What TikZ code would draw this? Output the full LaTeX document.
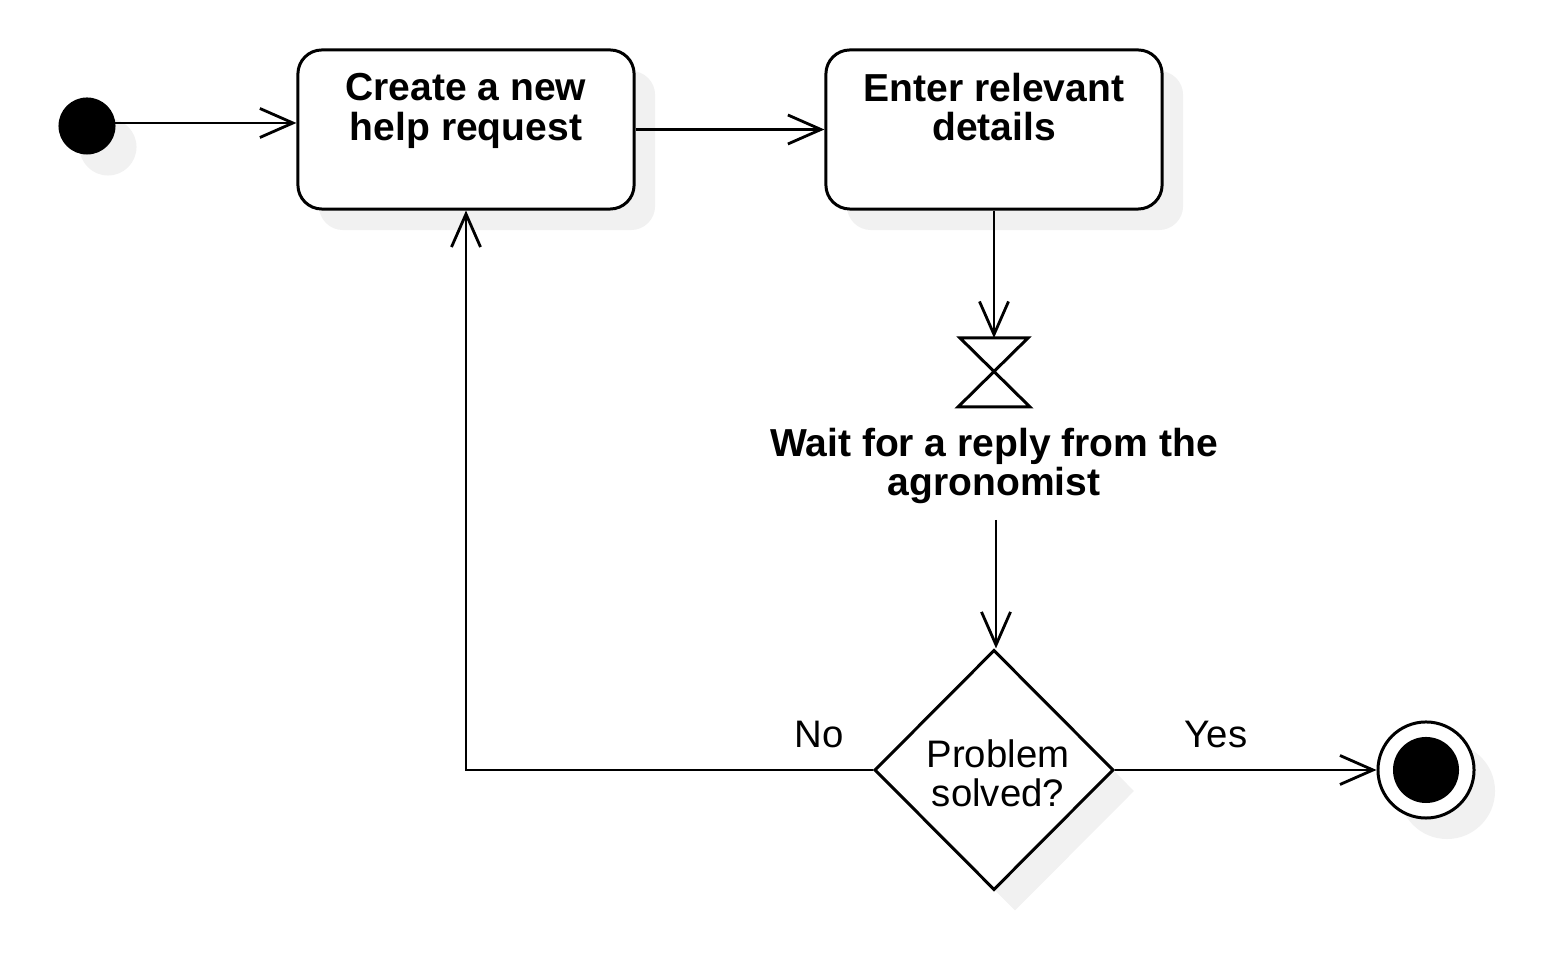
\documentclass[tikz,border=0pt]{standalone}
\usepackage{fontspec}
\setmainfont{Liberation Sans}
\usetikzlibrary{arrows.meta,positioning,shapes.geometric,shadows}
\definecolor{shade}{HTML}{F1F1F1}
\tikzset{
  flow/.style={>={Straight Barb[length=3.3mm,width=2.9mm,line width=0.8pt]},
    every edge/.style={draw=black, line width=0.8pt, ->}},
  shadowed/.style={drop shadow={shadow xshift=0.21cm, shadow yshift=-0.21cm,
    fill=shade, draw=none, opacity=1}},
  act/.style={
    rectangle, rounded corners=2.4mm, draw=black, line width=0.85pt, fill=white,
    minimum width=3.36cm, minimum height=1.59cm, shadowed
  },
  acttext/.style={align=center, font=\fontsize{11.1}{11.3}\selectfont\bfseries, inner sep=0pt},
  plain/.style={align=center, font=\fontsize{10.9}{11.1}\selectfont, inner sep=0pt},
  startdot/.style={circle, fill=black, minimum size=0.57cm, inner sep=0pt, shadowed},
  stopring/.style={circle, draw=black, line width=0.85pt, fill=white,
    minimum size=0.96cm, inner sep=0pt, shadowed},
  stopdot/.style={circle, fill=black, minimum size=0.66cm, inner sep=0pt},
  decision/.style={diamond, draw=black, line width=0.85pt, fill=white, aspect=1,
    minimum width=2.39cm, minimum height=2.40cm, inner sep=0pt, shadowed},
}

\begin{document}
\begin{tikzpicture}[flow, x=0.01cm, y=-0.01cm]
  \useasboundingbox (0,0) rectangle (1566,962);
  % states
  \node[startdot] (start) at (87,126) {};
  \node[act] (req) at (466,129.5) {};
  \node[acttext] (reqtext) at (466,111) {Create a new\\help request};
  \node[act] (det) at (994,129.5) {};
  \node[acttext] (dettext) at (994,107) {Enter relevant\\details};
  % wait event
  \coordinate (sand) at (994,338);
  \draw[line width=0.85pt, line join=miter] (960,338) -- (1028,338) -- (958,407) -- (1030,407) -- cycle;
  \node[acttext] (waittext) at (994,466) {Wait for a reply from the\\agronomist};
  \coordinate (waitout) at (996,520);
  \node[decision] (dec) at (994,770) {};
  \node[plain] (dectext) at (998,773) {Problem\\solved?};
  \node[stopring] (stop) at (1426,770) {};
  \node[stopdot] (stopin) at (stop) {};
  \node[plain] (no) at (819,735) {No};
  \node[plain] (yes) at (1216,735) {Yes};
  % transitions
  \coordinate (startout) at (115,123);
  \path (startout) edge (startout -| req.west);
  \path (req) edge (det);
  \path (det.south) edge (sand);
  \path (waitout) edge (waitout |- dec.north);
  \draw[line width=0.8pt, ->] (dec.west) -| (req.south);
  \path (dec.east) edge (stop.west);
\end{tikzpicture}
\end{document}
